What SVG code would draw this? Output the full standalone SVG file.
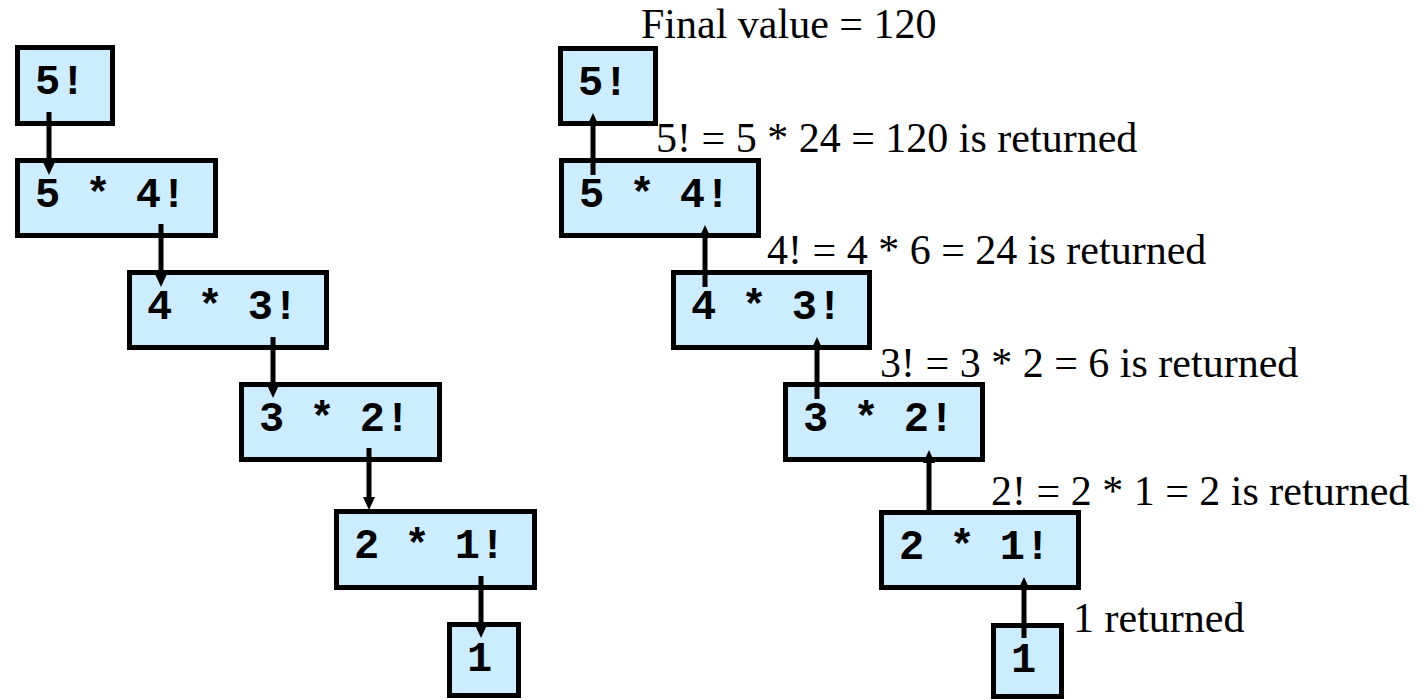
<svg xmlns="http://www.w3.org/2000/svg" width="1422" height="700" viewBox="0 0 1422 700">
<style>
.box{fill:#CCECFF;stroke:#000;stroke-width:5}
.code{font-family:"Liberation Mono","Courier New",monospace;font-weight:bold;font-size:42px;fill:#000}
.lbl{font-family:"Liberation Serif","Times New Roman",serif;font-size:42px;fill:#000}
.arr{stroke:#000;stroke-width:5;fill:none;marker-end:url(#ah)}
</style>
<defs>
<marker id="ah" viewBox="0 0 13 12" refX="0" refY="6" markerWidth="13" markerHeight="12" markerUnits="userSpaceOnUse" orient="auto">
<path d="M0,0 L13,6 L0,12 z" fill="#000"/>
</marker>
</defs>
<rect width="1422" height="700" fill="#fff"/>
<g id="L5"><rect class="box" x="17.5" y="47.5" width="95" height="76"/><text class="code" x="35" y="94">5!</text></g>
<g id="L4"><rect class="box" x="17.5" y="160.5" width="198" height="75"/><text class="code" x="35" y="207">5 * 4!</text></g>
<g id="L3"><rect class="box" x="129.5" y="272.5" width="197" height="75"/><text class="code" x="147" y="319">4 * 3!</text></g>
<g id="L2"><rect class="box" x="241.5" y="384.5" width="198" height="75"/><text class="code" x="259" y="431">3 * 2!</text></g>
<g id="L1"><rect class="box" x="336.5" y="511.5" width="198" height="76"/><text class="code" x="354" y="558">2 * 1!</text></g>
<g id="L0"><rect class="box" x="449.5" y="624.5" width="69" height="71"/><text class="code" x="467" y="671">1</text></g>
<g id="R5"><rect class="box" x="560.5" y="48.5" width="95" height="75"/><text class="code" x="578" y="95">5!</text></g>
<g id="R4"><rect class="box" x="561.5" y="160.5" width="197" height="75"/><text class="code" x="579" y="207">5 * 4!</text></g>
<g id="R3"><rect class="box" x="673.5" y="272.5" width="196" height="75"/><text class="code" x="691" y="319">4 * 3!</text></g>
<g id="R2"><rect class="box" x="785.5" y="384.5" width="197" height="75"/><text class="code" x="803" y="431">3 * 2!</text></g>
<g id="R1"><rect class="box" x="881.5" y="512.5" width="197" height="75"/><text class="code" x="899" y="559">2 * 1!</text></g>
<g id="R0"><rect class="box" x="993.5" y="625.5" width="68" height="71"/><text class="code" x="1011" y="672">1</text></g>
<g id="labels">
<text class="lbl" x="641" y="38">Final value = 120</text>
<text class="lbl" x="656" y="152">5! = 5 * 24 = 120 is returned</text>
<text class="lbl" x="767" y="264">4! = 4 * 6 = 24 is returned</text>
<text class="lbl" x="880" y="377">3! = 3 * 2 = 6 is returned</text>
<text class="lbl" x="991" y="505">2! = 2 * 1 = 2 is returned</text>
<text class="lbl" x="1073" y="632">1 returned</text>
</g>
<g id="connectors">
<line class="arr" x1="49" y1="112" x2="49" y2="162"/>
<line class="arr" x1="161" y1="224" x2="161" y2="274"/>
<line class="arr" x1="273" y1="337" x2="273" y2="385"/>
<line class="arr" x1="369" y1="448" x2="369" y2="497"/>
<line class="arr" x1="481" y1="576" x2="481" y2="625"/>
<line class="arr" x1="593" y1="175" x2="593" y2="126"/>
<line class="arr" x1="705" y1="287" x2="705" y2="238"/>
<line class="arr" x1="817" y1="399" x2="817" y2="350"/>
<line class="arr" x1="929" y1="510" x2="929" y2="463"/>
<line class="arr" x1="1024" y1="638" x2="1024" y2="590"/>
</g>
</svg>
